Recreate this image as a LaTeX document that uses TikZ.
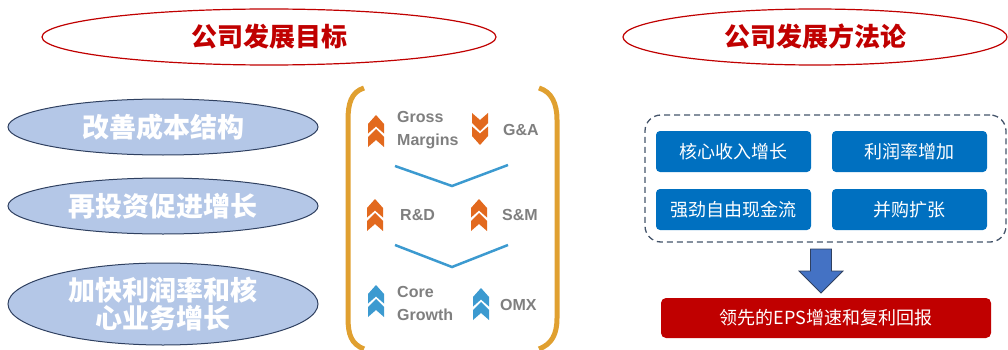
\documentclass[tikz,border=0pt]{standalone}
\usepackage{fontspec}
\setmainfont{Liberation Sans}
\newfontfamily\cjk{Noto Sans CJK SC}
\definecolor{titlered}{HTML}{C00000}
\definecolor{ellfill}{HTML}{B4C7E7}
\definecolor{ellline}{HTML}{2F4060}
\definecolor{brk}{HTML}{E0A030}
\definecolor{chorange}{HTML}{E2691E}
\definecolor{chblue}{HTML}{3C9AD0}
\definecolor{txtgray}{HTML}{7F7F7F}
\definecolor{boxblue}{HTML}{0070C0}
\definecolor{arrblue}{HTML}{4472C4}
\definecolor{dashnavy}{HTML}{44546A}
\usetikzlibrary{shapes.geometric,calc}
\tikzset{
  titleell/.style={ellipse, draw=titlered, line width=1.2pt, minimum width=#1, minimum height=56, inner sep=0pt, text=titlered, font=\cjk\bfseries\fontsize{26}{30}\selectfont},
  goalell/.style={ellipse, draw=ellline, fill=ellfill, line width=1pt, minimum width=310, inner sep=0pt, text=white, font=\cjk\bfseries\fontsize{27}{31}\selectfont, align=center},
  lbl/.style={anchor=west, text=txtgray, font=\bfseries\fontsize{16}{23}\selectfont, align=left, inner sep=0pt},
  bluebox/.style={rectangle, rounded corners=4pt, fill=boxblue, minimum width=155, minimum height=41, inner sep=0pt, text=white, font=\cjk\fontsize{18}{22}\selectfont},
  chev/.pic={
    \fill (0,9)--(8,0)--(16,9)--(16,18.5)--(8,11.5)--(0,18.5)--cycle;
    \fill (0,22)--(8,14)--(16,22)--(16,32)--(8,25)--(0,32)--cycle;
  },
  vline/.style={draw=chblue, line width=2.5pt},
  bracket/.style={draw=brk, line width=5pt}
}
\begin{document}
\begin{tikzpicture}[x=1pt, y=-1pt]
\useasboundingbox (0,0) rectangle (1008,350);
% titles
\node[titleell=454] (t1) at (269,37) {公司发展目标};
\node[titleell=384] (t2) at (815,37) {公司发展方法论};
% goal ellipses
\node[goalell, minimum height=56] (g1) at (163,127) {改善成本结构};
\node[goalell, minimum height=56] (g2) at (163,206) {再投资促进增长};
\node[goalell, minimum height=82] (g3) at (163,304) {加快利润率和核\\[-3pt]心业务增长};
% brackets
\draw[bracket] (364,88) .. controls (351,92) and (348,104) .. (348,120) -- (348,318) .. controls (348,334) and (351,344) .. (364,349);
\draw[bracket] (539,88) .. controls (552,92) and (557,104) .. (557,120) -- (557,318) .. controls (557,334) and (552,344) .. (539,349);
% chevrons
\pic[chorange] at (368,115) {chev};
\pic[chorange, yscale=-1] at (472,145) {chev};
\pic[chorange] at (367,199) {chev};
\pic[chorange] at (471,199) {chev};
\pic[chblue] at (368,285) {chev};
\pic[chblue] at (473,288) {chev};
% labels
\node[lbl] (gm) at (397,130) {Gross\\Margins};
\node[lbl] (ga) at (503,130) {G\&A};
\node[lbl] (rd) at (400,215) {R\&D};
\node[lbl] (sm) at (502,215) {S\&M};
\node[lbl] (cg) at (397,303) {Core\\Growth};
\node[lbl] (om) at (500,305) {OMX};
% V lines
\draw[vline] (395,166) -- (452,186) -- (508,165);
\draw[vline] (395,245) -- (452,267) -- (508,245);
% right side
\node[draw=dashnavy, line width=1.3pt, dash pattern=on 6pt off 4pt, rounded corners=16pt, minimum width=361, minimum height=127, inner sep=0pt] (frame) at (825.5,178.5) {};
\node[bluebox] (b1) at (733.5,151.5) {核心收入增长};
\node[bluebox] (b2) at (909.5,151.5) {利润率增加};
\node[bluebox] (b3) at (733.5,209.5) {强劲自由现金流};
\node[bluebox] (b4) at (909.5,209.5) {并购扩张};
\node[rectangle, rounded corners=5pt, fill=titlered, minimum width=330, minimum height=40, inner sep=0pt, text=white, font=\cjk\fontsize{18}{22}\selectfont] (res) at (826,318) {领先的EPS增速和复利回报};
% block arrow
\coordinate (atop) at (821,249);
\coordinate (atip) at (821,293);
\draw[fill=arrblue, draw=ellline, line width=0.8pt] ($(atop)+(-10.5,0)$) -- ($(atop)+(10.5,0)$) -- ($(atop)+(10.5,22)$) -- ($(atop)+(22,22)$) -- (atip) -- ($(atop)+(-22,22)$) -- ($(atop)+(-10.5,22)$) -- cycle;
\end{tikzpicture}
\end{document}
